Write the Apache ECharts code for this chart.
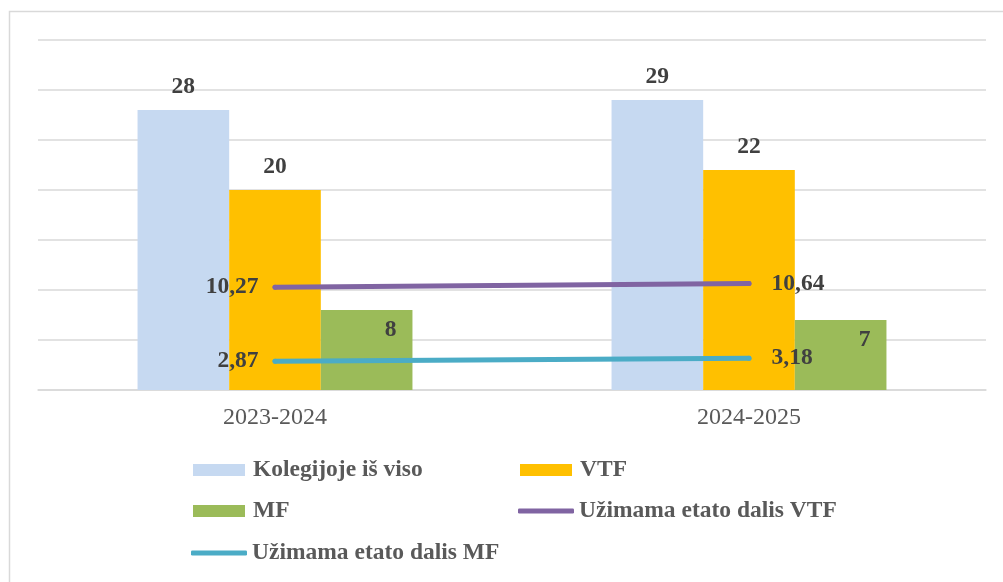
<!DOCTYPE html>
<html><head><meta charset="utf-8">
<script src="https://cdn.jsdelivr.net/npm/echarts@6/dist/echarts.min.js"></script>
<style>html,body{margin:0;padding:0;background:#fff}#c{width:1003px;height:582px}</style>
</head><body><div id="c"></div>
<script>
const categories = ['2023-2024', '2024-2025'];
const seriesNames = ['Kolegijoje iš viso', 'VTF', 'MF', 'Užimama etato dalis VTF', 'Užimama etato dalis MF'];
const totalValues = [28, 29];
const vtfValues = [20, 22];
const mfValues = [8, 7];
const vtfShare = [10.27, 10.64];
const mfShare = [2.87, 3.18];

const serif = '"Liberation Serif", "Times New Roman", serif';
const lblStyle = { fontFamily: serif, fontWeight: 'bold', fontSize: 23.5, color: '#404040' };
const colors = ['#C6D9F1', '#FFC000', '#9BBB59', '#8064A2', '#4BACC6'];

function barSeries(name, vals, color, label) {
  return { name, type: 'bar', data: vals, itemStyle: { color }, barGap: '0%', barCategoryGap: '42%',
    label: Object.assign({ show: true }, lblStyle, label) };
}
function lineSeries(name, vals, color) {
  return { name, type: 'line', data: vals.map((v, i) => ({ value: v,
      label: { position: i === 0 ? 'left' : 'right', distance: i === 0 ? 14 : 20 } })),
    symbol: 'circle', symbolSize: 5, itemStyle: { color },
    lineStyle: { width: 5, color, cap: 'round' }, z: 5,
    label: Object.assign({ show: true, formatter: p => String(p.value).replace('.', ',') }, lblStyle) };
}
function legend(name, left, top, isLine) {
  return { data: [name], left, top, orient: 'vertical',
    icon: isLine ? 'roundRect' : 'rect', itemWidth: isLine ? 56 : 52, itemHeight: isLine ? 5 : 12,
    textStyle: { fontFamily: serif, fontWeight: 'bold', fontSize: 23.5, color: '#595959', padding: [0, 0, 0, isLine ? 0 : 3] } };
}

const chart = echarts.init(document.getElementById('c'));
chart.setOption({
  animation: false,
  graphic: [{ type: 'rect', shape: { x: 9.5, y: 11.5, width: 1010, height: 600 },
    style: { fill: 'none', stroke: '#d9d9d9', lineWidth: 1.5 }, silent: true }],
  grid: { left: 38, right: 17, top: 40, bottom: 192 },
  xAxis: { type: 'category', data: categories,
    axisLine: { lineStyle: { color: '#d9d9d9', width: 1.5 } }, axisTick: { show: false },
    axisLabel: { fontFamily: serif, fontSize: 24, color: '#595959', margin: 16 } },
  yAxis: { type: 'value', min: 0, max: 35, interval: 5, axisLabel: { show: false },
    axisLine: { show: false }, axisTick: { show: false },
    splitLine: { lineStyle: { color: '#d9d9d9', width: 1.5 } } },
  legend: [
    legend(seriesNames[0], 188, 453, false),
    legend(seriesNames[1], 515, 453, false),
    legend(seriesNames[2], 188, 494, false),
    legend(seriesNames[3], 513, 494, true),
    legend(seriesNames[4], 186, 536, true)
  ],
  series: [
    barSeries(seriesNames[0], totalValues, colors[0], { position: 'top', distance: 11 }),
    barSeries(seriesNames[1], vtfValues, colors[1], { position: 'top', distance: 11 }),
    barSeries(seriesNames[2], mfValues, colors[2], { position: 'insideTop', distance: 8, offset: [24, 0] }),
    lineSeries(seriesNames[3], vtfShare, colors[3]),
    lineSeries(seriesNames[4], mfShare, colors[4])
  ]
});
</script></body></html>
